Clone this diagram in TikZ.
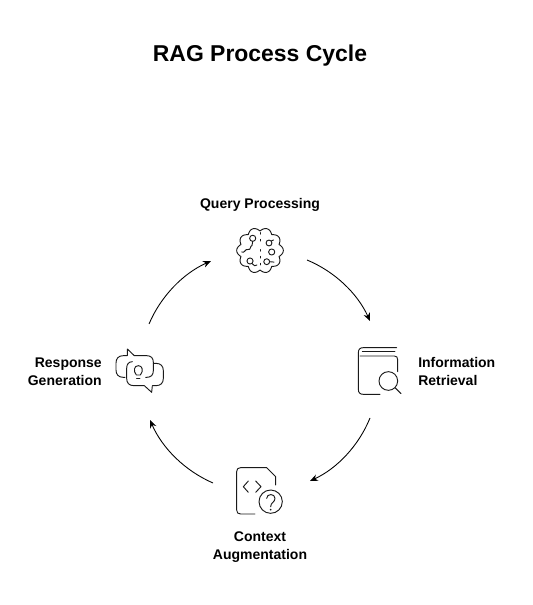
\documentclass[tikz,border=0pt]{standalone}
\usepackage{fontspec}
\setmainfont{Liberation Sans}
\usetikzlibrary{arrows.meta}
\definecolor{ink}{HTML}{1A1A1A}
\tikzset{
  x=0.75pt,y=-0.75pt,
  lbl/.style={font=\bfseries\fontsize{10.5pt}{13.5pt}\selectfont,text=black,inner sep=0pt,align=center},
  ttl/.style={font=\bfseries\fontsize{17.2pt}{21pt}\selectfont,text=black,inner sep=0pt},
  icon/.style={draw=ink,line width=0.7pt,line cap=round,line join=round},
  flow/.style={draw=black,line width=0.65pt,-{Stealth[length=6pt,width=5pt]},bend right=-21.5,looseness=0.88}
}
\begin{document}
\begin{tikzpicture}
\useasboundingbox (0,0) rectangle (532,605);
\fill[white] (0,0) rectangle (532,605);
\node[ttl] (title) at (260,56) {RAG Process Cycle};
\node[lbl] (q) at (260,205) {Query Processing};
\node[lbl,align=left,anchor=west] (i) at (418,371) {Information\\Retrieval};
\node[lbl] (c) at (260,547) {Context\\Augmentation};
\node[lbl,align=right,anchor=east] (r) at (102,371.5) {Response\\Generation};
% connectors
\coordinate (a1s) at (307,260); \coordinate (a1e) at (370,321);
\coordinate (a2s) at (370,418); \coordinate (a2e) at (310,481);
\coordinate (a3s) at (213,483); \coordinate (a3e) at (150,420);
\coordinate (a4s) at (149,324); \coordinate (a4e) at (211,261);
\draw[flow] (a1s) to (a1e);
\draw[flow] (a2s) to (a2e);
\draw[flow] (a3s) to (a3e);
\draw[flow] (a4s) to (a4e);
% query icon
\begin{scope}[shift={(260,250.5)}]
\draw[icon,domain=0:360,samples=241,smooth] plot ({(20+3.3*abs(cos(5*\x)))*cos(\x)},{(19.5+3.3*abs(cos(5*\x)))*sin(\x)}) -- cycle;
\draw[icon,dash pattern=on 1.2pt off 4pt] (0,-18) -- (0,-6) (0,-1) -- (0,18);
\draw[icon] (-7.3,-12.2) circle (2.3pt);
\draw[icon] (9,-7.5) circle (2.2pt);
\draw[icon] (11.7,1.5) circle (2.3pt);
\draw[icon] (6.7,11.2) circle (2.2pt);
\draw[icon] (-10,10.5) circle (2.3pt);
\draw[icon] (11.3,-9.5) -- (13.5,-10.5) (9.7,11.2) -- (14,11.6) (-8,13) .. controls (-7,15.5) and (-4,16) .. (-3,14.5);
\draw[icon] (-18.3,1.5) .. controls (-15,3) and (-15,-2) .. (-12,-1) .. controls (-9,0) and (-10,-5) .. (-8,-5) -- (-7.3,-9.2);
\end{scope}
% book icon
\begin{scope}[shift={(345,335)},x=0.25pt,y=-0.25pt]
\draw[icon] (155,38) -- (55,38) .. controls (45,38) and (40,43) .. (40,53) -- (40,163) .. controls (40,173) and (45,178) .. (55,178) -- (105,178);
\draw[icon] (52,50) -- (150,50);
\draw[icon] (45,63) -- (148,63) .. controls (155,63) and (158,67) .. (158,74) -- (158,110);
\draw[icon] (130,138) circle (7pt);
\draw[icon] (150,158) -- (168,176);
\end{scope}
% doc icon
\begin{scope}[shift={(225,455)},x=0.25pt,y=-0.25pt]
\draw[icon] (90,177) -- (47,177) .. controls (39,177) and (35,173) .. (35,165) -- (35,50) .. controls (35,42) and (39,38) .. (47,38) -- (125,38) -- (152,65) -- (152,90);
\draw[icon] (70,78) -- (55,95) -- (70,112);
\draw[icon] (92,78) -- (108,95) -- (92,112);
\draw[icon] (137,140) circle (8.75pt);
\draw[icon] (125,130) .. controls (125,115) and (150,115) .. (150,130) .. controls (150,142) and (137,142) .. (137,155);
\fill[ink] (137,164) circle (0.7pt);
\end{scope}
% bubbles icon
\begin{scope}[shift={(105,335)},x=0.25pt,y=-0.25pt]
\draw[icon] (60,127) -- (55,127) .. controls (40,127) and (33,118) .. (33,105) -- (33,84) .. controls (33,71) and (40,62) .. (55,62) -- (67,62) -- (67,42) -- (88,62) -- (125,62) .. controls (138,62) and (145,69) .. (145,82) -- (145,107) .. controls (145,120) and (138,127) .. (125,127) -- (122,127);
\draw[icon] (82,80) .. controls (71,80) and (65,88) .. (65,100) -- (65,130) .. controls (65,144) and (72,152) .. (87,152) -- (118,152) -- (140,172) -- (142,152) -- (153,152) .. controls (167,152) and (175,144) .. (175,130) -- (175,107) .. controls (175,93) and (167,85) .. (153,85) -- (145,85);
\draw[icon] (94,120) .. controls (84,108) and (87,92) .. (100,92) .. controls (113,92) and (116,108) .. (106,120) -- (94,120);
\draw[icon] (95,129) -- (105,129);
\end{scope}
\end{tikzpicture}
\end{document}
